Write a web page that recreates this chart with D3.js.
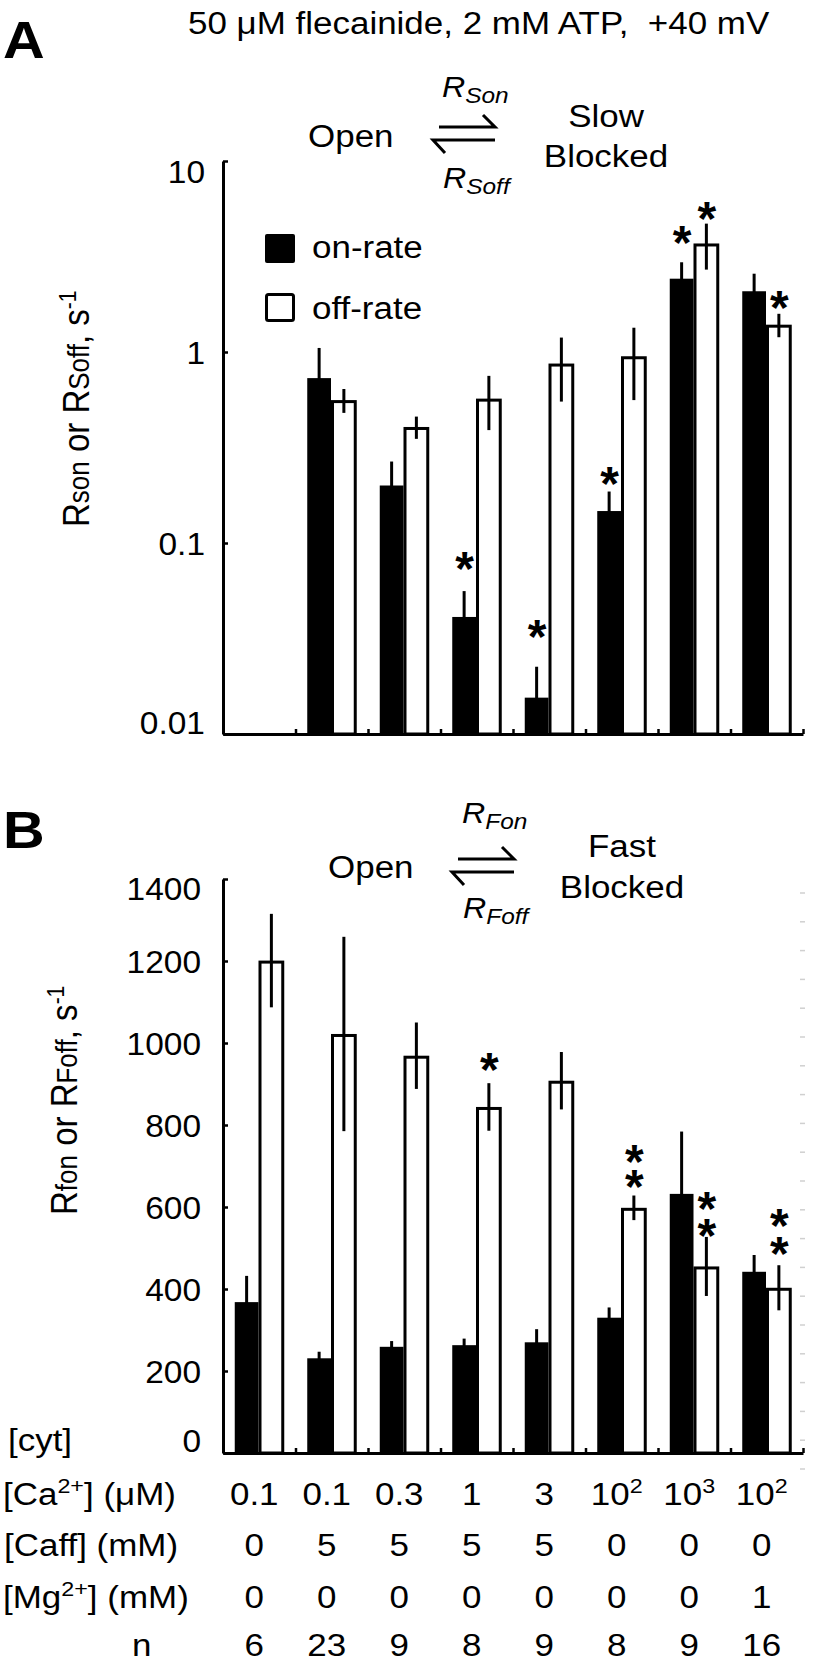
<!DOCTYPE html>
<html><head><meta charset="utf-8">
<script src="https://cdn.jsdelivr.net/npm/d3@7"></script>
<style>
html,body{margin:0;padding:0;background:#fff;}
svg{display:block;}
text{font-family:"Liberation Sans",Arial,Helvetica,sans-serif;fill:#000;}
</style>
</head><body><div id="chart"></div>
<script>
// ---------------- data ----------------
const slots = [0,1,2,3,4,5,6,7];            // 8 recording conditions
// Panel A (slow block), conditions 1..7 (condition 0 not measured)
const slowSlots   = [1,2,3,4,5,6,7];
const slowOn      = [0.73,0.20,0.041,0.0155,0.147,2.42,2.08];
const slowOnErr   = [0.32,0.067,0.015,0.007,0.039,0.53,0.49];
const slowOff     = [0.56,0.405,0.57,0.87,0.95,3.70,1.39];
const slowOffErr  = [0.08,0.054,0.18,0.32,0.39,1.0,0.195];
const slowOnStars = [null,null,0.084,0.037,0.235,4.3,null];
const slowOffStars= [null,null,null,null,null,5.7,1.96];
const ticksA = [0.01,0.1,1,10];
const tickLabelsA = ["0.01","0.1","1","10"];
// Panel B (fast block), all 8 conditions
const fastOn      = [368,231,259,263,270,330,632,442];
const fastOnErr   = [64,16,14,16,32,25,152,41];
const fastOff     = [1201,1022,969,844,908,598,455,403];
const fastOffErr  = [114,237,81,58,70,30,72,55];
const fastOffStars= [[],[],[],[963],[],[678,738],[559,623],[515,582]];
const ticksB = [0,200,400,600,800,1000,1200,1400];
// condition table
const caLabels  = [["0.1"],["0.1"],["0.3"],["1"],["3"],["10","2"],["10","3"],["10","2"]];
const caffVals  = ["0","5","5","5","5","0","0","0"];
const mgVals    = ["0","0","0","0","0","0","0","1"];
const nVals     = ["6","23","9","8","9","8","9","16"];

// ---------------- setup ----------------
const W = 814, H = 1664, SX = 1.11, FS = 31.5;
const svg = d3.select("#chart").append("svg").attr("width",W).attr("height",H);

function stext(x,y,anchor,size,extra){
  const t = svg.append("text")
    .attr("transform",`translate(${x},${y}) scale(${SX},1)`)
    .attr("text-anchor",anchor||"start")
    .attr("font-size",size||FS)
    .style("white-space","pre");
  if(extra) extra(t);
  return t;
}

const X0 = 223, X1 = 803;
const x = d3.scaleBand().domain(slots).range([X0,X1]).padding(0);
const xLin = d3.scaleLinear().domain([0,8]).range([X0,X1]);
const sub = d3.scaleBand().domain(["on","off"]).range([0,49.5]);
const gLeft = i => x(i) + x.bandwidth()/2 - 24.5;

// ---------------- header ----------------
stext(3,58,"start",52).attr("font-weight","bold").text("A");
stext(188,34,"start",FS).text("50 \u03bcM flecainide, 2 mM ATP,  +40 mV");

function scheme(openX, openY, rx, rUpY, rDnY, arrowR, arrowY, sub1, sub2, w1, w2, wx, w1y, w2y){
  stext(openX,openY,"start",FS).text("Open");
  stext(rx,rUpY,"start",29,t=>{
    t.attr("font-style","italic");
    t.append("tspan").text("R");
    t.append("tspan").attr("font-size",22).attr("dy",6).text(sub1);
  });
  stext(rx+1,rDnY,"start",29,t=>{
    t.attr("font-style","italic");
    t.append("tspan").text("R");
    t.append("tspan").attr("font-size",22).attr("dy",6).text(sub2);
  });
  const line = d3.line();
  svg.append("path").attr("d",line([[arrowR-56,arrowY],[arrowR,arrowY],[arrowR-12,arrowY-12]]))
    .attr("fill","none").attr("stroke","#000").attr("stroke-width",3);
  svg.append("path").attr("d",line([[arrowR,arrowY+13],[arrowR-62,arrowY+13],[arrowR-50,arrowY+26]]))
    .attr("fill","none").attr("stroke","#000").attr("stroke-width",3);
  stext(wx,w1y,"middle",FS).text(w1);
  stext(wx,w2y,"middle",FS).text(w2);
}
scheme(308,147,442,97,188,495,127,"Son","Soff","Slow","Blocked",606,127,167);

// ---------------- Panel A ----------------
const yA = d3.scaleLog().domain([0.01,10]).range([734,161]);

// legend
svg.append("rect").attr("x",265).attr("y",234).attr("width",30).attr("height",29).attr("rx",2).attr("fill","#000");
svg.append("rect").attr("x",266.5).attr("y",294.5).attr("width",27).attr("height",26).attr("rx",2)
  .attr("fill","#fff").attr("stroke","#000").attr("stroke-width",3);
stext(312,258,"start",FS).text("on-rate");
stext(312,319,"start",FS).text("off-rate");

function drawBars(yScale, base, onVals, onErr, offVals, offErr, slotIdx){
  const g = svg.append("g");
  onVals.forEach((v,k)=>{
    const i = slotIdx[k];
    const left = gLeft(i) + sub("on");
    g.append("rect").attr("x",left).attr("y",yScale(v)).attr("width",sub.bandwidth()-1)
      .attr("height",base-yScale(v)).attr("fill","#000");
    const cx = left + (sub.bandwidth()-1)/2;
    g.append("line").attr("x1",cx).attr("x2",cx).attr("y1",yScale(v)+2).attr("y2",yScale(v+onErr[k]))
      .attr("stroke","#000").attr("stroke-width",3);
  });
  offVals.forEach((v,k)=>{
    const i = slotIdx[k];
    const left = gLeft(i) + sub("off") - 1;
    const w = sub.bandwidth()+1;
    g.append("rect").attr("x",left+1.5).attr("y",yScale(v)+1.5).attr("width",w-3)
      .attr("height",base-yScale(v)-1.5).attr("fill","#fff").attr("stroke","#000").attr("stroke-width",3);
    const cx = left + w/2;
    g.append("line").attr("x1",cx).attr("x2",cx).attr("y1",yScale(v-offErr[k])).attr("y2",yScale(v+offErr[k]))
      .attr("stroke","#000").attr("stroke-width",3);
  });
}
drawBars(yA,734,slowOn,slowOnErr,slowOff,slowOffErr,slowSlots);

const STAR = 48;
function star(cx, cy){
  svg.append("text").attr("x",cx).attr("y",cy+0.58*STAR).attr("text-anchor","middle")
    .attr("font-size",STAR).attr("font-weight","bold").text("*");
}
slowOnStars.forEach((s,k)=>{ if(s!=null){ const i=slowSlots[k]; star(gLeft(i)+sub("on")+sub.bandwidth()/2, yA(s)); }});
slowOffStars.forEach((s,k)=>{ if(s!=null){ const i=slowSlots[k]; star(gLeft(i)+sub("off")+sub.bandwidth()/2, yA(s)); }});

// axes A
const axA = svg.append("g").attr("transform",`translate(${X0},0)`)
  .call(d3.axisLeft(yA).tickValues(ticksA).tickFormat((d,i)=>tickLabelsA[i]).tickSizeInner(-5).tickSizeOuter(0).tickPadding(18));
axA.select(".domain").attr("stroke-width",3);
axA.selectAll(".tick line").attr("stroke-width",2.5);
axA.selectAll(".tick text").attr("font-size",31).attr("font-family",null)
  .attr("x",null).attr("dy",null)
  .attr("transform",d=>`translate(-18,${d===10?21:(d===0.01?-1:11)}) scale(1.08,1)`);
const bxA = svg.append("g").attr("transform","translate(0,734)")
  .call(d3.axisBottom(xLin).tickValues([1,2,3,4,5,6,7,8]).tickFormat("").tickSizeInner(-5).tickSizeOuter(0));
bxA.select(".domain").attr("stroke-width",3);
bxA.selectAll(".tick line").attr("stroke-width",2.5);

// y title A
svg.append("text").attr("transform",`translate(89,527) scale(${SX},1) rotate(-90)`).attr("font-size",33)
  .call(t=>{
    t.append("tspan").text("R");
    t.append("tspan").attr("font-size",26).text("son");
    t.append("tspan").text(" or R");
    t.append("tspan").attr("font-size",26).text("Soff");
    t.append("tspan").text(", s");
    t.append("tspan").attr("font-size",21).attr("dy",-12).text("-1");
  });

// ---------------- Panel B ----------------
stext(3,848,"start",52).attr("font-weight","bold").text("B");
scheme(328,878,462,823,918,514,859,"Fon","Foff","Fast","Blocked",622,857,898);

const yB = d3.scaleLinear().domain([0,1400]).range([1453,879]);
drawBars(yB,1453,fastOn,fastOnErr,fastOff,fastOffErr,slots);
fastOffStars.forEach((arr,i)=>arr.forEach(s=>star(gLeft(i)+sub("off")+sub.bandwidth()/2, yB(s))));

const axB = svg.append("g").attr("transform",`translate(${X0},0)`)
  .call(d3.axisLeft(yB).tickValues(ticksB).tickFormat(d3.format("d")).tickSizeInner(-5).tickSizeOuter(0).tickPadding(22));
axB.select(".domain").attr("stroke-width",3);
axB.selectAll(".tick line").attr("stroke-width",2.5);
axB.selectAll(".tick text").attr("font-size",31).attr("font-family",null)
  .attr("x",null).attr("dy",null)
  .attr("transform",d=>`translate(-22,${d===1400?20:(d===0?-2:11)}) scale(1.08,1)`);
const bxB = svg.append("g").attr("transform","translate(0,1453)")
  .call(d3.axisBottom(xLin).tickValues([1,2,3,4,5,6,7,8]).tickFormat("").tickSizeInner(-5).tickSizeOuter(0));
bxB.select(".domain").attr("stroke-width",3);
bxB.selectAll(".tick line").attr("stroke-width",2.5);

// faint right-edge marks
svg.append("g").selectAll("line").data(d3.range(893,1470,28.8)).join("line")
  .attr("x1",800).attr("x2",805).attr("y1",d=>d).attr("y2",d=>d).attr("stroke","#d0d0d0").attr("stroke-width",1.5);

// y title B
svg.append("text").attr("transform",`translate(77,1215) scale(${SX},1) rotate(-90)`).attr("font-size",33)
  .call(t=>{
    t.append("tspan").text("R");
    t.append("tspan").attr("font-size",26).text("fon");
    t.append("tspan").text(" or R");
    t.append("tspan").attr("font-size",26).text("Foff");
    t.append("tspan").text(", s");
    t.append("tspan").attr("font-size",21).attr("dy",-12).text("-1");
  });

// ---------------- condition table ----------------
const colX = i => x(i) + x.bandwidth()/2 - 5;
stext(8,1451,"start",FS).text("[cyt]");
stext(3,1505,"start",FS,t=>{
  t.append("tspan").text("[Ca");
  t.append("tspan").attr("font-size",21).attr("dy",-12).text("2+");
  t.append("tspan").attr("dy",12).text("] (\u03bcM)");
});
stext(4,1556,"start",FS).text("[Caff] (mM)");
stext(3,1608,"start",FS,t=>{
  t.append("tspan").text("[Mg");
  t.append("tspan").attr("font-size",21).attr("dy",-12).text("2+");
  t.append("tspan").attr("dy",12).text("] (mM)");
});
stext(132,1656,"start",FS).text("n");
caLabels.forEach((c,i)=>{
  stext(colX(i),1505,"middle",FS,t=>{
    t.append("tspan").text(c[0]);
    if(c[1]) t.append("tspan").attr("font-size",21).attr("dy",-12).text(c[1]);
  });
});
caffVals.forEach((v,i)=>stext(colX(i),1556,"middle",FS).text(v));
mgVals.forEach((v,i)=>stext(colX(i),1608,"middle",FS).text(v));
nVals.forEach((v,i)=>stext(colX(i),1656,"middle",FS).text(v));
</script>
</body></html>
